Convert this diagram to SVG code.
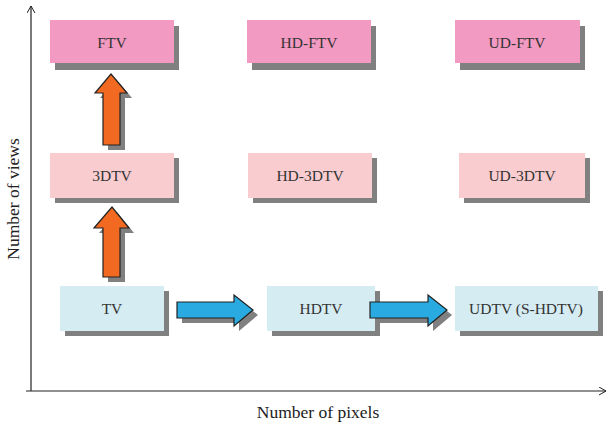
<svg xmlns="http://www.w3.org/2000/svg" width="610" height="424" viewBox="0 0 610 424">
<defs>
<style>
.sh{fill:#808080}
.ftv{fill:#f39ac2}
.d3{fill:#f9cdd0}
.tv{fill:#d5ecf2}
.t{font-family:"Liberation Serif",serif;font-size:15.5px;fill:#333;text-anchor:middle}
.ax{font-family:"Liberation Serif",serif;font-size:17.5px;fill:#222;text-anchor:middle}
.up{fill:#f26a22;stroke:#222;stroke-width:1.2}
.rt{fill:#29abe2;stroke:#222;stroke-width:1.2}
</style>
<marker id="ah" markerWidth="10" markerHeight="10" refX="8" refY="4" orient="auto" markerUnits="userSpaceOnUse">
<path d="M1,0 L8,4 L1,8" fill="none" stroke="#222" stroke-width="1"/>
</marker>
</defs>
<rect width="610" height="424" fill="#fff"/>
<g id="axes" fill="none" stroke="#222" stroke-width="1.2">
<line x1="31" y1="391" x2="31" y2="6" marker-end="url(#ah)"/>
<line x1="26" y1="391" x2="606" y2="391" marker-end="url(#ah)"/>
</g>
<text class="ax" x="318" y="418">Number of pixels</text>
<text class="ax" transform="translate(19,199) rotate(-90)">Number of views</text>

<g id="FTV"><rect class="sh" x="55" y="26" width="124" height="44"/><rect class="ftv" x="50" y="20" width="124" height="43"/><text class="t" x="112" y="48">FTV</text></g>
<g id="HD-FTV"><rect class="sh" x="252" y="26" width="124" height="44"/><rect class="ftv" x="247" y="20" width="124" height="43"/><text class="t" x="309" y="48">HD-FTV</text></g>
<g id="UD-FTV"><rect class="sh" x="460" y="26" width="125" height="44"/><rect class="ftv" x="455" y="20" width="125" height="43"/><text class="t" x="517" y="48">UD-FTV</text></g>

<g id="3DTV"><rect class="sh" x="55" y="158" width="124" height="45"/><rect class="d3" x="50" y="153" width="124" height="45"/><text class="t" x="112" y="181">3DTV</text></g>
<g id="HD-3DTV"><rect class="sh" x="253" y="158" width="124" height="45"/><rect class="d3" x="248" y="153" width="124" height="45"/><text class="t" x="310" y="181">HD-3DTV</text></g>
<g id="UD-3DTV"><rect class="sh" x="464" y="158" width="126" height="45"/><rect class="d3" x="459" y="153" width="126" height="45"/><text class="t" x="522" y="181">UD-3DTV</text></g>

<g id="TV"><rect class="sh" x="65" y="291" width="104" height="45"/><rect class="tv" x="60" y="286" width="104" height="45"/><text class="t" x="112" y="314">TV</text></g>
<g id="HDTV"><rect class="sh" x="272" y="291" width="108" height="45"/><rect class="tv" x="267" y="286" width="108" height="45"/><text class="t" x="321" y="314">HDTV</text></g>
<g id="UDTV"><rect class="sh" x="460" y="291" width="143" height="45"/><rect class="tv" x="455" y="286" width="143" height="45"/><text class="t" x="526" y="314">UDTV (S-HDTV)</text></g>

<g id="connectors">
<path class="sh" d="M108,282 L108,233 L99,233 L117,212 L134,233 L125,233 L125,282 Z"/>
<path class="up" d="M103,277 L103,228 L94,228 L112,207 L129,228 L120,228 L120,277 Z"/>
<path class="sh" d="M108,150 L108,98 L100,98 L116,79 L132,98 L125,98 L125,150 Z"/>
<path class="up" d="M103,145 L103,93 L95,93 L111,74 L127,93 L120,93 L120,145 Z"/>
<path class="sh" d="M182,307 L239,307 L239,300 L258,315 L239,331 L239,323 L182,323 Z"/>
<path class="rt" d="M177,302 L234,302 L234,295 L253,310 L234,326 L234,318 L177,318 Z"/>
<path class="sh" d="M375,307 L433,307 L433,300 L452,315 L433,331 L433,323 L375,323 Z"/>
<path class="rt" d="M370,302 L428,302 L428,295 L447,310 L428,326 L428,318 L370,318 Z"/>
</g>
</svg>
